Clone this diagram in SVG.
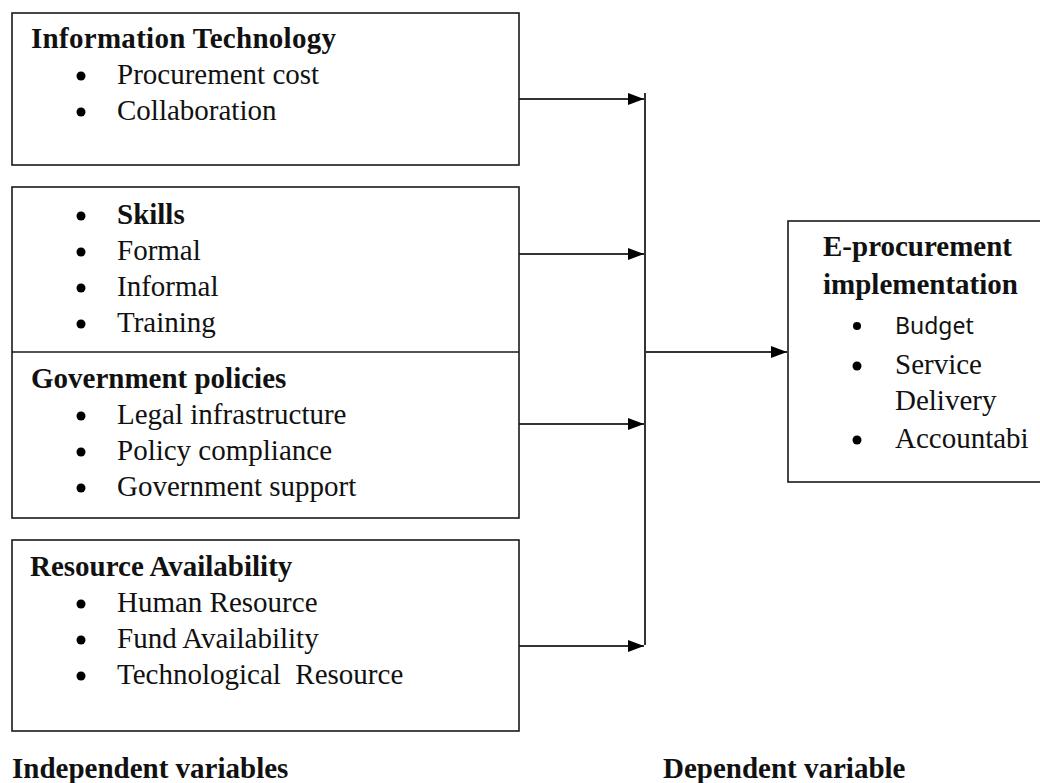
<svg xmlns="http://www.w3.org/2000/svg" width="1040" height="783" viewBox="0 0 1040 783">
<style>
.box{fill:#fff;stroke:#1a1a1a;stroke-width:1.6}
.t{font-family:"Liberation Serif","Times New Roman",serif;font-size:29px;fill:#111}
.b{font-weight:bold}
.s{font-family:"Noto Sans","Liberation Sans",sans-serif;font-size:23px;fill:#111}
.dot{fill:#000}
.ln{stroke:#333;stroke-width:2;fill:none}
</style>
<defs>
<marker id="ah" markerWidth="16" markerHeight="12" refX="16" refY="6" orient="auto" markerUnits="userSpaceOnUse">
<path d="M0,0 L16,6 L0,12 Z" fill="#000"/>
</marker>
</defs>
<rect width="1040" height="783" fill="#fff"/>

<g id="connectors">
<line class="ln" x1="519" y1="99" x2="644" y2="99" marker-end="url(#ah)"/>
<line class="ln" x1="519" y1="254" x2="644" y2="254" marker-end="url(#ah)"/>
<line class="ln" x1="519" y1="424" x2="644" y2="424" marker-end="url(#ah)"/>
<line class="ln" x1="519" y1="646" x2="644" y2="646" marker-end="url(#ah)"/>
<line class="ln" x1="645" y1="93" x2="645" y2="645"/>
<line class="ln" x1="645" y1="352" x2="787" y2="352" marker-end="url(#ah)"/>
</g>

<g id="node-it">
<rect class="box" x="12" y="13" width="507" height="152"/>
<text class="t b" x="31" y="48" textLength="305" lengthAdjust="spacing">Information Technology</text>
<circle class="dot" cx="81" cy="76" r="4.5"/>
<text class="t" x="117" y="84">Procurement cost</text>
<circle class="dot" cx="81" cy="112" r="4.5"/>
<text class="t" x="117" y="120">Collaboration</text>
</g>

<g id="node-skills-gov">
<rect class="box" x="12" y="187" width="507" height="331"/>
<line x1="12" y1="352" x2="519" y2="352" stroke="#1a1a1a" stroke-width="1.6"/>
<circle class="dot" cx="81" cy="216" r="4.5"/>
<text class="t b" x="117" y="224">Skills</text>
<circle class="dot" cx="81" cy="252" r="4.5"/>
<text class="t" x="117" y="260">Formal</text>
<circle class="dot" cx="81" cy="288" r="4.5"/>
<text class="t" x="117" y="296">Informal</text>
<circle class="dot" cx="81" cy="324" r="4.5"/>
<text class="t" x="117" y="332">Training</text>
<text class="t b" x="31" y="388">Government policies</text>
<circle class="dot" cx="81" cy="416" r="4.5"/>
<text class="t" x="117" y="424">Legal infrastructure</text>
<circle class="dot" cx="81" cy="452" r="4.5"/>
<text class="t" x="117" y="460">Policy compliance</text>
<circle class="dot" cx="81" cy="488" r="4.5"/>
<text class="t" x="117" y="496">Government support</text>
</g>

<g id="node-resource">
<rect class="box" x="12" y="540" width="507" height="191"/>
<text class="t b" x="30" y="576">Resource Availability</text>
<circle class="dot" cx="81" cy="604" r="4.5"/>
<text class="t" x="117" y="612">Human Resource</text>
<circle class="dot" cx="81" cy="640" r="4.5"/>
<text class="t" x="117" y="648">Fund Availability</text>
<circle class="dot" cx="81" cy="676" r="4.5"/>
<text class="t" x="117" y="684" xml:space="preserve">Technological  Resource</text>
</g>

<g id="node-eproc">
<rect class="box" x="788" y="221" width="260" height="261"/>
<text class="t b" x="823" y="256">E-procurement</text>
<text class="t b" x="823" y="294">implementation</text>
<circle class="dot" cx="857" cy="326" r="4"/>
<text class="s" x="895" y="334">Budget</text>
<circle class="dot" cx="857" cy="366" r="4.5"/>
<text class="t" x="895" y="374">Service</text>
<text class="t" x="895" y="410">Delivery</text>
<circle class="dot" cx="857" cy="440" r="4.5"/>
<text class="t" x="895" y="448">Accountabi</text>
</g>

<g id="labels">
<text class="t b" x="12" y="778">Independent variables</text>
<text class="t b" x="663" y="778">Dependent variable</text>
</g>
</svg>
